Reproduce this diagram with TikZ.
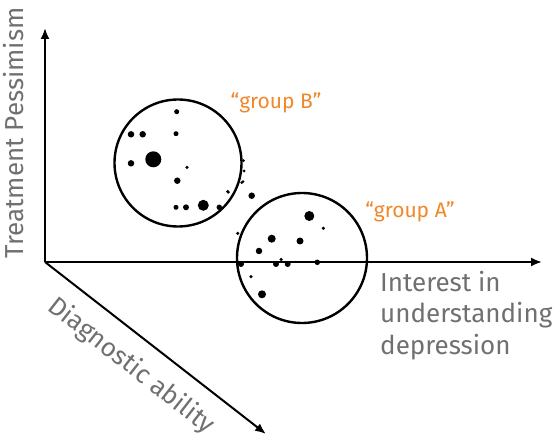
\documentclass[tikz,border=0pt]{standalone}
\usepackage{fontspec}
\setmainfont{Fira Sans}
\usetikzlibrary{arrows.meta}
\definecolor{labgray}{HTML}{707070}
\definecolor{laborange}{HTML}{F0882A}
\begin{document}
\begin{tikzpicture}[x=1pt,y=-1pt,
  axis/.style={line width=2pt,-{Latex[length=11pt,width=9pt]}},
  grp/.style={line width=2.4pt,black},
  dot/.style={fill=black,circle,inner sep=0pt,minimum size=#1},
  dot/.default=4pt,
  axlab/.style={text=labgray,font=\fontsize{26}{31.5}\selectfont},
  grplab/.style={text=laborange,font=\fontsize{21}{24}\selectfont}]
\useasboundingbox (0,0) rectangle (554,438);
\coordinate (O) at (45,262);
\coordinate (Ytip) at (45,28);
\coordinate (Xtip) at (542,262);
\coordinate (Ztip) at (266,434);
\draw[axis] (O) -- (Ytip);
\draw[axis] (O) -- (Xtip);
\draw[axis] (O) -- (Ztip);
% circles
\node[grp,draw,circle,minimum size=127pt,inner sep=0pt] (B) at (178,163) {};
\node[grp,draw,circle,minimum size=130pt,inner sep=0pt] (A) at (302,258) {};
% dots group B
\node[dot=5pt] (b1) at (176.7,111.7) {};
\node[dot=6.5pt] (b2) at (131,134.3) {};
\node[dot=6.5pt] (b3) at (142.7,134.3) {};
\node[dot=5pt] (b4) at (176,133.7) {};
\node[dot=16pt] (b5) at (153.3,159.3) {};
\node[dot=6.5pt] (b6) at (131,163.3) {};
\node[dot=3.5pt] (b7) at (187,167.3) {};
\node[dot=6.5pt] (b8) at (177.3,180.7) {};
\node[dot=3.5pt] (b9) at (227.7,191.7) {};
\node[dot=6.5pt] (b10) at (251.7,195.7) {};
\node[dot=5pt] (b11) at (176,207.3) {};
\node[dot=6pt] (b12) at (186,207.3) {};
\node[dot=11pt] (b13) at (203.3,205.3) {};
\node[dot=5.5pt] (b14) at (219.3,207.3) {};
\node[dot=3pt] (b15) at (243.5,160.7) {};
\node[dot=3pt] (b16) at (244,171) {};
\node[dot=3pt] (b17) at (243,181.7) {};
\node[dot=3pt] (b18) at (241.7,182.7) {};
% dots group A
\node[dot=3pt] (a1) at (228.3,192.3) {};
\node[dot=10pt] (a2) at (309.3,216) {};
\node[dot=3.5pt] (a3) at (323.3,228.3) {};
\node[dot=3.5pt] (a4) at (237.7,233.3) {};
\node[dot=8pt] (a5) at (271.7,238.7) {};
\node[dot=7pt] (a6) at (300,241) {};
\node[dot=6.5pt] (a7) at (259,251) {};
\node[dot=6pt] (a8) at (241,264) {};
\node[dot=6pt] (a9) at (276,264) {};
\node[dot=6pt] (a10) at (287.7,264) {};
\node[dot=5.5pt] (a11) at (317.3,262.3) {};
\node[dot=3.5pt] (a12) at (281,259.5) {};
\node[dot=3.5pt] (a13) at (251,276.7) {};
\node[dot=8pt] (a14) at (262,294.3) {};
% labels
\node[grplab] (lB) at (276,103) {“group B”};
\node[grplab] (lA) at (410,212) {“group A”};
\node[axlab,rotate=90] (ly) at (14,133) {Treatment Pessimism};
\node[axlab,align=left,anchor=north west,inner sep=0pt] (lx) at (380,271) {Interest in\\understanding\\depression};
\node[axlab,rotate=-38] (lz) at (131,366) {Diagnostic ability};
\end{tikzpicture}
\end{document}
